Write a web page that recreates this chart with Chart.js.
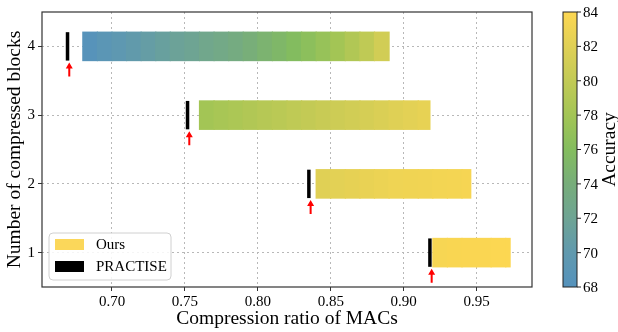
<!DOCTYPE html>
<html>
<head>
<meta charset="utf-8">
<script src="https://cdn.jsdelivr.net/npm/chart.js@4.4.1/dist/chart.umd.min.js"></script>
<style>
  html, body { margin: 0; padding: 0; background: #fff; }
  #wrap { width: 618px; height: 332px; }
</style>
</head>
<body>
<div id="wrap"><canvas id="chart" width="618" height="332"></canvas></div>
<script>
// rows, top to bottom
var blocks = ['4', '3', '2', '1'];
var practise = [0.6695, 0.7518, 0.835, 0.918];

// our configs: segment edges (compression ratio) and accuracy of each segment
var ratios4 = [0.680, 0.690, 0.700, 0.710, 0.720, 0.730, 0.740, 0.750, 0.760, 0.770, 0.780,
               0.790, 0.800, 0.810, 0.820, 0.830, 0.840, 0.850, 0.860, 0.870, 0.880, 0.890];
var acc4 = [68.3, 69.0, 69.6, 70.2, 70.7, 71.2, 71.7, 72.1, 72.6, 73.0, 73.5,
            74.1, 74.7, 75.3, 75.9, 76.5, 77.2, 78.0, 78.9, 79.8, 81.0];
var ratios3 = [0.760, 0.770, 0.780, 0.790, 0.800, 0.810, 0.820, 0.830, 0.840,
               0.850, 0.860, 0.870, 0.880, 0.890, 0.900, 0.910, 0.918];
var acc3 = [78.0, 78.3, 78.6, 78.9, 79.2, 79.5, 79.8, 80.1, 80.4, 80.7, 81.0, 81.3, 81.6, 81.9, 82.2, 82.5];
var ratios2 = [0.840, 0.850, 0.860, 0.870, 0.880, 0.890, 0.900, 0.910, 0.920, 0.930, 0.940, 0.946];
var acc2 = [82.0, 82.2, 82.4, 82.6, 82.8, 83.0, 83.1, 83.2, 83.3, 83.4, 83.5];
var ratios1 = [0.920, 0.930, 0.940, 0.950, 0.960, 0.970, 0.973];
var acc1 = [83.6, 83.7, 83.8, 83.8, 83.9, 83.9];

var xTicks = [0.70, 0.75, 0.80, 0.85, 0.90, 0.95];
var cbarTicks = [68, 70, 72, 74, 76, 78, 80, 82, 84];

// colormap stops (accuracy -> rgb)
var cmapVals = [68, 70, 72, 74, 76, 78, 80, 82, 84];
var cmapCols = [[85,146,188],[96,153,174],[110,164,148],[119,173,122],[132,189,94],
                [163,197,85],[194,202,85],[224,208,85],[253,215,82]];

function cmap(v) {
  var i = 0;
  while (i < cmapVals.length - 2 && v > cmapVals[i + 1]) i++;
  var t = (v - cmapVals[i]) / (cmapVals[i + 1] - cmapVals[i]);
  t = Math.max(0, Math.min(1, t));
  var c = cmapCols[i].map(function(a, k) { return Math.round(a + (cmapCols[i + 1][k] - a) * t); });
  return 'rgb(' + c.join(',') + ')';
}

var rows = [[ratios4, acc4], [ratios3, acc3], [ratios2, acc2], [ratios1, acc1]];
var oursData = [], oursColors = [];
rows.forEach(function(r, j) {
  var e = r[0], a = r[1];
  for (var i = 0; i < a.length; i++) {
    oursData.push({ y: blocks[j], x: [e[i], e[i + 1]] });
    oursColors.push(cmap(a[i]));
  }
});

var markW = 0.0012;
var practiseData = practise.map(function(p, j) { return { y: blocks[j], x: [p - markW, p + markW] }; });

Chart.defaults.font.family = '"Liberation Serif", "Times New Roman", serif';
Chart.defaults.color = '#000';

var frame = {
  id: 'frame',
  afterDatasetsDraw: function(chart) {
    var ctx = chart.ctx, a = chart.chartArea;
    ctx.save();

    // red arrows under PRACTISE marks
    var meta = chart.getDatasetMeta(1);
    ctx.fillStyle = '#ff0000';
    meta.data.forEach(function(el) {
      var x = el.x, top = el.y + el.height / 2 + 2;
      ctx.beginPath();
      ctx.moveTo(x, top);
      ctx.lineTo(x + 3.5, top + 6);
      ctx.lineTo(x + 1, top + 6);
      ctx.lineTo(x + 1, top + 14);
      ctx.lineTo(x - 1, top + 14);
      ctx.lineTo(x - 1, top + 6);
      ctx.lineTo(x - 3.5, top + 6);
      ctx.closePath();
      ctx.fill();
    });

    // box around plot
    ctx.strokeStyle = '#333';
    ctx.lineWidth = 1.2;
    ctx.strokeRect(a.left, a.top, a.right - a.left, a.bottom - a.top);

    // legend
    var lx = a.left + 7, ly = a.bottom - 54, lw = 122, lh = 47;
    ctx.beginPath();
    ctx.roundRect(lx, ly, lw, lh, 4);
    ctx.fillStyle = 'rgba(255,255,255,0.85)';
    ctx.fill();
    ctx.strokeStyle = '#d0d0d0';
    ctx.lineWidth = 1;
    ctx.stroke();
    ctx.font = '15px "Liberation Serif"';
    ctx.textBaseline = 'middle';
    ctx.textAlign = 'left';
    var entries = [['#fbd75a', chart.data.datasets[0].label], ['#000', chart.data.datasets[1].label]];
    entries.forEach(function(en, k) {
      var cy = ly + 11 + k * 22;
      ctx.fillStyle = en[0];
      ctx.fillRect(lx + 6, cy - 5, 29, 11);
      ctx.fillStyle = '#000';
      ctx.fillText(en[1], lx + 47, cy + 1);
    });

    // colorbar
    var cx = a.right + 31, cw = 14;
    var g = ctx.createLinearGradient(0, a.bottom, 0, a.top);
    cmapVals.forEach(function(v, k) {
      g.addColorStop((v - 68) / 16, 'rgb(' + cmapCols[k].join(',') + ')');
    });
    ctx.fillStyle = g;
    ctx.fillRect(cx, a.top, cw, a.bottom - a.top);
    ctx.strokeStyle = '#222';
    ctx.lineWidth = 1;
    ctx.strokeRect(cx, a.top, cw, a.bottom - a.top);
    ctx.font = '15px "Liberation Serif"';
    ctx.fillStyle = '#000';
    cbarTicks.forEach(function(v) {
      var y = a.bottom - (v - 68) / 16 * (a.bottom - a.top);
      ctx.beginPath();
      ctx.moveTo(cx + cw, y);
      ctx.lineTo(cx + cw + 4, y);
      ctx.stroke();
      ctx.fillText(String(v), cx + cw + 6, y + 1);
    });
    ctx.translate(610, (a.top + a.bottom) / 2);
    ctx.rotate(-Math.PI / 2);
    ctx.textAlign = 'center';
    ctx.font = '19.5px "Liberation Serif"';
    ctx.fillText('Accuracy', 0, 0);
    ctx.restore();
  }
};

new Chart(document.getElementById('chart'), {
  type: 'bar',
  data: {
    labels: blocks,
    datasets: [
      {
        label: 'Ours',
        data: oursData,
        backgroundColor: oursColors,
        borderWidth: 0,
        inflateAmount: 0.6,
        borderSkipped: false,
        grouped: false,
        barPercentage: 0.413,
        categoryPercentage: 1
      },
      {
        label: 'PRACTISE',
        data: practiseData,
        backgroundColor: '#000',
        borderWidth: 0,
        grouped: false,
        barPercentage: 0.413,
        categoryPercentage: 1
      }
    ]
  },
  options: {
    indexAxis: 'y',
    responsive: false,
    animation: false,
    layout: { padding: { left: 0, top: 6, right: 86, bottom: 0 } },
    plugins: { legend: { display: false }, tooltip: { enabled: false } },
    scales: {
      x: {
        type: 'linear',
        min: 0.652,
        max: 0.988,
        afterBuildTicks: function(scale) {
          scale.ticks = xTicks.map(function(v) { return { value: v }; });
        },
        afterFit: function(scale) { scale.height = 45; },
        ticks: {
          font: { size: 15 },
          padding: 2,
          maxRotation: 0,
          callback: function(v) { return Number(v).toFixed(2); }
        },
        grid: { color: '#b8b8b8', lineWidth: 1, tickColor: '#333', tickLength: 4, tickBorderDash: [] },
        border: { display: false, dash: [2, 3] },
        title: { display: true, text: 'Compression ratio of MACs', font: { size: 19.5 }, padding: { top: 0, bottom: 1 } }
      },
      y: {
        type: 'category',
        offset: true,
        afterFit: function(scale) { scale.width = 42; },
        ticks: { font: { size: 15 }, padding: 3 },
        grid: { offset: false, color: '#b8b8b8', lineWidth: 1, tickColor: '#333', tickLength: 4, tickBorderDash: [] },
        border: { display: false, dash: [2, 3] },
        title: { display: true, text: 'Number of compressed blocks', font: { size: 19.5 }, padding: { top: 3, bottom: 0 } }
      }
    }
  },
  plugins: [frame]
});
</script>
</body>
</html>
